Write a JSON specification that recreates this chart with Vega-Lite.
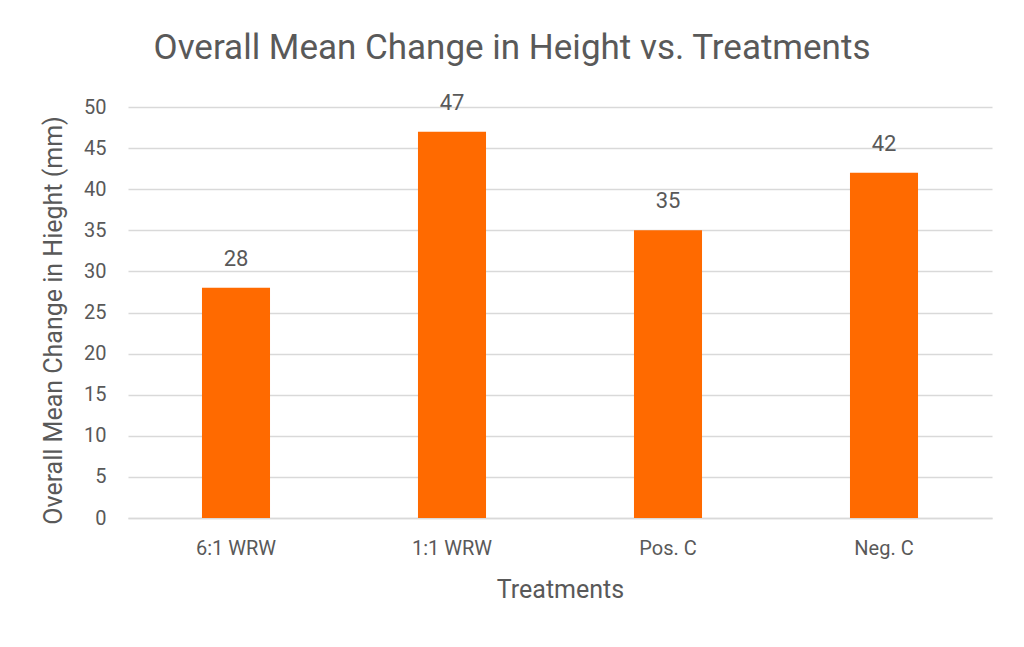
{
  "$schema": "https://vega.github.io/schema/vega-lite/v6.json",
  "autosize": "none",
  "padding": {"left": 128, "top": 107, "right": 32, "bottom": 129},
  "width": 864,
  "height": 411,
  "background": "white",
  "title": {
    "text": "Overall Mean Change in Height vs. Treatments",
    "font": "Roboto",
    "fontSize": 35,
    "fontWeight": "normal",
    "color": "#595959",
    "anchor": "middle",
    "dx": -48,
    "offset": 26
  },
  "data": {
    "values": [
      {"treatment": "6:1 WRW", "change": 28},
      {"treatment": "1:1 WRW", "change": 47},
      {"treatment": "Pos. C", "change": 35},
      {"treatment": "Neg. C", "change": 42}
    ]
  },
  "encoding": {
    "x": {
      "field": "treatment",
      "type": "nominal",
      "sort": null,
      "scale": {"paddingInner": 0.685, "paddingOuter": 0.3425},
      "axis": {
        "title": "Treatments",
        "labelAngle": 0,
        "ticks": false,
        "domain": true,
        "domainColor": "#D9D9D9",
        "domainWidth": 1.5,
        "labelPadding": 20,
        "titlePadding": 19
      }
    },
    "y": {
      "field": "change",
      "type": "quantitative",
      "scale": {"domain": [0, 50]},
      "axis": {
        "title": "Overall Mean Change in Hieght (mm)",
        "values": [0, 5, 10, 15, 20, 25, 30, 35, 40, 45, 50],
        "ticks": false,
        "domain": false,
        "gridColor": "#D9D9D9",
        "gridWidth": 1.5,
        "labelPadding": 22,
        "titlePadding": 17,
        "titleY": 213
      }
    }
  },
  "layer": [
    {"mark": {"type": "bar", "color": "#FF6A00"}},
    {
      "mark": {"type": "text", "dy": -29, "font": "Roboto", "fontSize": 22, "color": "#595959"},
      "encoding": {"text": {"field": "change", "type": "quantitative"}}
    }
  ],
  "config": {
    "view": {"stroke": null},
    "axis": {
      "labelFont": "Roboto",
      "labelFontSize": 20,
      "labelColor": "#595959",
      "titleFont": "Roboto",
      "titleFontSize": 25,
      "titleFontWeight": "normal",
      "titleColor": "#595959"
    }
  }
}
